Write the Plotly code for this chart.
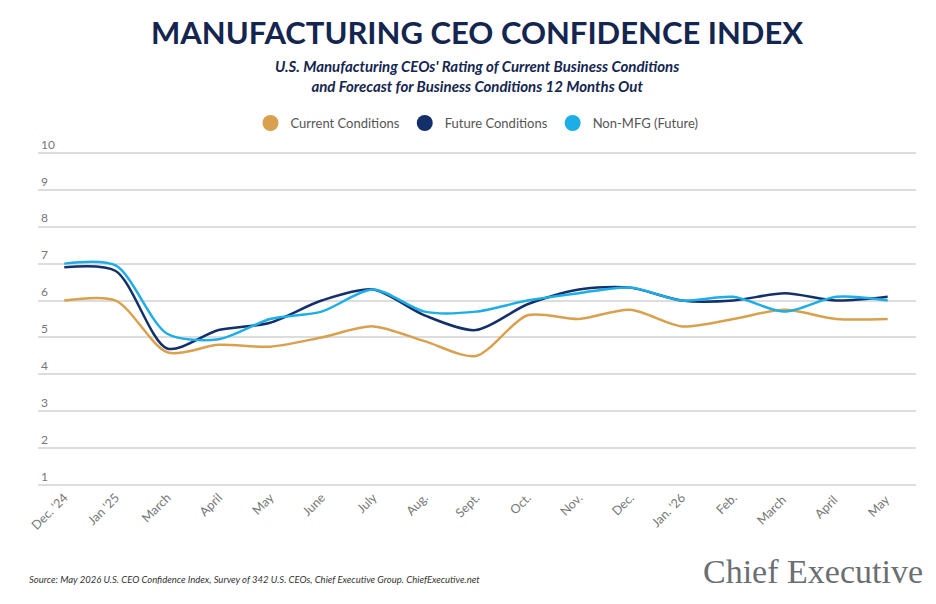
import plotly.graph_objects as go

months = ["Dec. '24", "Jan '25", "March", "April", "May", "June", "July", "Aug.", "Sept.",
          "Oct.", "Nov.", "Dec.", "Jan. '26", "Feb.", "March ", "April ", "May "]
current = [6.0, 6.0, 4.6, 4.8, 4.75, 5.0, 5.3, 4.9, 4.5, 5.6, 5.5, 5.75, 5.3, 5.5, 5.75, 5.5, 5.5]
future = [6.9, 6.8, 4.7, 5.2, 5.4, 6.0, 6.3, 5.6, 5.2, 5.9, 6.3, 6.35, 6.0, 6.0, 6.2, 6.0, 6.1]
nonmfg = [7.0, 6.95, 5.1, 4.95, 5.5, 5.7, 6.3, 5.7, 5.7, 6.0, 6.2, 6.35, 6.0, 6.1, 5.7, 6.1, 6.0]
yticks = list(range(1, 11))

fig = go.Figure()
for name, vals, col in [("Current Conditions", current, "#D9A04E"),
                        ("Future Conditions", future, "#14306B"),
                        ("Non-MFG (Future)", nonmfg, "#1DAEE8")]:
    fig.add_trace(go.Scatter(x=months, y=vals, name=name, mode="lines", showlegend=False,
                             line=dict(color=col, width=2.5, shape="spline", smoothing=0.8)))
    # legend entry with a round marker
    fig.add_trace(go.Scatter(x=[months[0]], y=[None], name=name, mode="markers",
                             marker=dict(color=col, size=16)))

fig.update_layout(
    width=936, height=604, plot_bgcolor="white", paper_bgcolor="white",
    font=dict(family="Lato", color="#666"),
    margin=dict(l=30, r=28, t=119, b=125),
    legend=dict(orientation="h", x=0.5, xanchor="center", y=1.011, yanchor="middle",
                font=dict(size=13, color="#555")),
)
fig.add_annotation(text="<b>MANUFACTURING CEO CONFIDENCE INDEX</b>", xref="paper", yref="paper",
                   x=0.5, y=1.264, xanchor="center", yanchor="middle", showarrow=False,
                   font=dict(size=31, color="#14264F", family="Lato"))
fig.add_annotation(text="<b><i>U.S. Manufacturing CEOs' Rating of Current Business Conditions<br>and Forecast for Business Conditions 12 Months Out</i></b>",
                   xref="paper", yref="paper", x=0.5, y=1.142, xanchor="center", yanchor="middle",
                   showarrow=False, font=dict(size=15, color="#14264F"))
fig.add_annotation(text="<i>Source: May 2026 U.S. CEO Confidence Index, Survey of 342 U.S. CEOs, Chief Executive Group. ChiefExecutive.net</i>",
                   xref="paper", yref="paper", x=-0.012, y=-0.258, xanchor="left", yanchor="middle",
                   showarrow=False, font=dict(size=9.5, color="#333"))
fig.add_annotation(text="Chief Executive", xref="paper", yref="paper", x=1.01, y=-0.236,
                   xanchor="right", yanchor="middle", showarrow=False,
                   font=dict(size=34, color="#6b6f73", family="Liberation Serif"))
fig.update_xaxes(tickangle=-45, tickfont=dict(size=12.5, color="#777"), showgrid=False,
                 showline=False, range=[-0.51, 16.55])
fig.update_yaxes(range=[0.95, 10.7], tickvals=yticks, ticklabelposition="inside top",
                 tickfont=dict(size=12, color="#777"), gridcolor="#ddd", gridwidth=1.5,
                 zeroline=False, showline=False)
fig.write_html("out.html")
